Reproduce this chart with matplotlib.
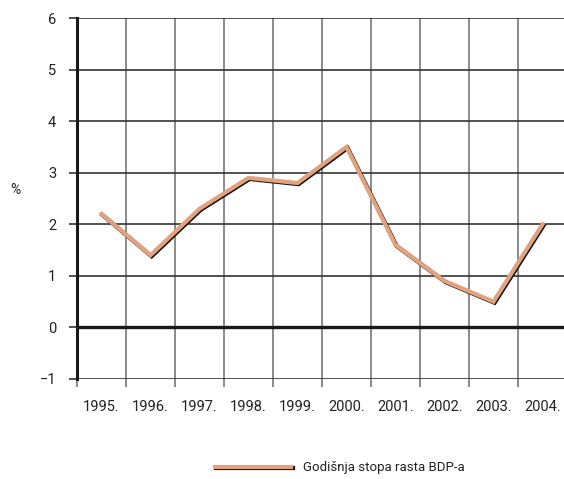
import matplotlib
matplotlib.use("Agg")
import matplotlib.pyplot as plt
import matplotlib.patheffects as pe
import numpy as np

years = ["1995.", "1996.", "1997.", "1998.", "1999.", "2000.", "2001.", "2002.", "2003.", "2004."]
growth = [2.2, 1.4, 2.3, 2.9, 2.8, 3.5, 1.6, 0.9, 0.5, 2.0]
yticks = [-1, 0, 1, 2, 3, 4, 5, 6]
ytick_labels = ["\u22121", "0", "1", "2", "3", "4", "5", "6"]
series_label = "Godišnja stopa rasta BDP-a"
ylabel = "%"

plt.rcParams['font.family'] = ['Roboto', 'DejaVu Sans']

fig = plt.figure(figsize=(5.64, 4.79), dpi=100)
ax = fig.add_axes([77/564, 100/479, 490/564, 361/479])

n = len(years)
x = np.arange(n) + 0.5
ax.set_xlim(0, n)
ax.set_ylim(-1, 6)

# grid
for v in range(1, n + 1):
    ax.axvline(v, color='#8a8a8a', lw=1.4, zorder=1)
for yv in yticks:
    if yv == 0:
        ax.axhline(yv, color='#1a1a1a', lw=2.4, zorder=2)
    else:
        ax.axhline(yv, color='#333333', lw=1.2, zorder=2)

for s in ['top', 'right', 'bottom']:
    ax.spines[s].set_visible(False)
ax.spines['left'].set_linewidth(2.2)
ax.spines['left'].set_color('#1a1a1a')
ax.spines['left'].set_zorder(3)

line, = ax.plot(x, growth, color='#E2A27E', lw=3, solid_joinstyle='miter', zorder=5,
                label=series_label,
                path_effects=[pe.SimpleLineShadow(offset=(0.8, -0.8), shadow_color='#111111', alpha=1.0),
                              pe.Normal()])

ax.set_yticks(yticks)
ax.set_yticklabels(ytick_labels)
ax.tick_params(axis='y', length=6, width=1.2, color='#333333', pad=9, labelsize=10.5, labelcolor='#222222')

ax.set_xticks(np.arange(0, n + 1))
ax.set_xticklabels([])
ax.set_xticks(x, minor=True)
ax.set_xticklabels(years, minor=True)
ax.tick_params(axis='x', which='major', length=6, width=1.4, color='#8a8a8a', direction='out')
ax.tick_params(axis='x', which='minor', length=0, pad=15, labelsize=10.5, labelcolor='#222222')

fig.text(15/564, 1 - 190/479, ylabel, fontsize=10, ha='center', va='center', color='#222222')

fig.legend(handles=[line], loc='center', bbox_to_anchor=(340/564, 1 - 468/479),
           frameon=False, fontsize=9.5, handlelength=5.8, handletextpad=0.9,
           labelcolor='#222222')

fig.savefig("out.png", dpi=100)
